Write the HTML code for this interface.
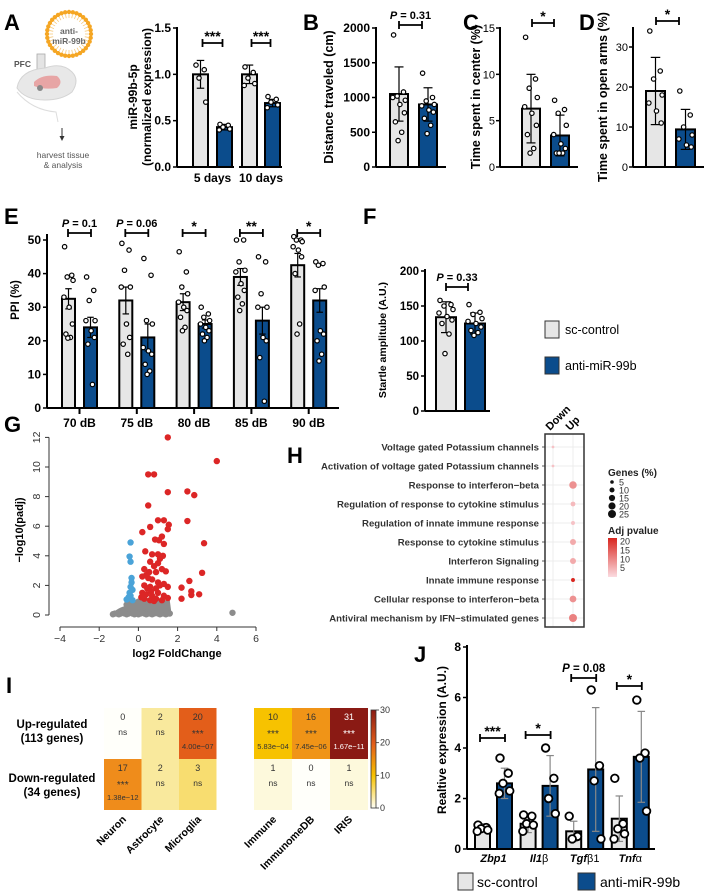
<!DOCTYPE html>
<html><head><meta charset="utf-8"><style>
html,body{margin:0;padding:0;background:#fff;}
svg{display:block;font-family:"Liberation Sans",Arial,sans-serif;}
.letter{font-weight:900;font-size:22px;}
</style></head><body>
<svg id="fig" width="705" height="893" viewBox="0 0 705 893">
<defs>
<linearGradient id="adjgrad" x1="0" y1="1" x2="0" y2="0"><stop offset="0" stop-color="#fbdbe0"/><stop offset="1" stop-color="#d9261f"/></linearGradient>
<linearGradient id="heatgrad" x1="0" y1="1" x2="0" y2="0"><stop offset="0" stop-color="#fffff5"/><stop offset="0.33" stop-color="#f7c200"/><stop offset="0.65" stop-color="#e35e1a"/><stop offset="1" stop-color="#8a1a14"/></linearGradient>
</defs>
<text class="letter" x="4" y="30">A</text>
<text class="letter" x="303" y="30">B</text>
<text class="letter" x="463" y="30">C</text>
<text class="letter" x="579" y="30">D</text>
<text class="letter" x="4" y="224">E</text>
<text class="letter" x="363" y="224">F</text>
<text class="letter" x="4" y="432">G</text>
<text class="letter" x="287" y="463">H</text>
<text class="letter" x="6" y="693">I</text>
<text class="letter" x="414" y="662">J</text>

<g>
  <g id="ring"></g>
  <text x="69" y="34" font-size="8.5" font-weight="bold" fill="#666" text-anchor="middle">anti-</text>
  <text x="69" y="44" font-size="8.5" font-weight="bold" fill="#666" text-anchor="middle">miR-99b</text>
  <rect x="37" y="54" width="8" height="16" fill="#e4e4e4" stroke="#aaa" stroke-width="0.8"/>
  <rect x="39.5" y="70" width="3" height="14" fill="#d8a0a0"/>
  <text x="14" y="67" font-size="8.5" font-weight="bold" fill="#555">PFC</text>
  <path d="M17 88 Q20 70 45 68 Q62 62 72 72 Q80 80 72 92 Q62 100 45 100 Q25 100 17 88Z" fill="#e8e8e8" stroke="#d4d4d4"/>
  <path d="M34 82 Q42 74 57 76 Q64 82 57 88 Q44 90 34 86Z" fill="#e7a5a5"/>
  <circle cx="40" cy="88" r="3" fill="#888"/>
  <path d="M17 92 Q32 110 56 112 L58 122" fill="none" stroke="#ddd"/>
  <line x1="62" y1="128" x2="62" y2="138" stroke="#333" stroke-width="1"/>
  <path d="M59.5 136 L62 141 L64.5 136Z" fill="#333"/>
  <text x="63" y="158" font-size="8.5" fill="#555" text-anchor="middle">harvest tissue</text>
  <text x="63" y="168" font-size="8.5" fill="#555" text-anchor="middle">&amp; analysis</text>
</g>
<g id="charts"></g>
</svg>
<script>
// ---------- DATA ----------
const aGroups = ["5 days","10 days"];
const aCtrlMean = [1.0, 1.0];
const aCtrlErr = [0.15, 0.1];
const aBlueMean = [0.43, 0.69];
const aBlueErr = [0.03, 0.04];
const aCtrlDots = [[1.1,1.05,0.96,0.7],[1.08,1.02,0.96,0.9,0.88]];
const aBlueDots = [[0.46,0.45,0.43,0.41,0.4],[0.76,0.73,0.7,0.67,0.64]];
const aTicks = [0,0.5,1,1.5];
const aTickLabels = ["0.0","0.5","1.0","1.5"];

const bMeans = [1050, 900];
const bErr = [390, 240];
const bCtrlDots = [1900,1080,1020,960,1000,900,780,650,500,380];
const bBlueDots = [1350,1000,950,900,880,820,790,700,600,480];
const bTicks = [0,500,1000,1500,2000];

const cMeans = [6.3, 3.4];
const cErr = [3.7, 2.2];
const cCtrlDots = [14,9.5,8.5,7.5,6.5,5.8,4.5,3.5,2,1.5];
const cBlueDots = [7.2,6.2,5.8,4.5,3.5,2.5,2,1.5,1.5,1.5];
const cTicks = [0,5,10,15];

const dMeans = [19, 9.4];
const dErr = [8.4, 5];
const dCtrlDots = [34,24,22,18,16,14,11];
const dBlueDots = [19,13,10,8,7,5.5,5];
const dTicks = [0,10,20,30];

const eCats = ["70 dB","75 dB","80 dB","85 dB","90 dB"];
const eCtrlMean = [32.5,32,31.5,39,42.5];
const eCtrlSem = [3,4,2.5,2.5,3.5];
const eBlueMean = [24,21,25,26,32];
const eBlueSem = [3,4,1.2,4,3.5];
const eSig = ["P = 0.1","P = 0.06","*","**","*"];
const eCtrlDots = [[48,39.5,39,38,33,30,25,22,21,20.8],[49,47,41,36,36,25,21,19,16],[46.5,40.5,36,34,31.5,30,29,27,24,23],[50,50,43.5,41,40.5,37,35,33,31,29],[51,50,50,49.5,48,47,45,40,25,22]];
const eBlueDots = [[39,35,32,26,26,23,21,19,7],[44.5,39.5,26,25,18,17,16,13,11,10],[30,28,27,26,25,24,23,22,21,20],[45,43.5,34,30,30,21,20,15,2],[43.5,43,42.5,36,35,23,22,20,16,14]];
const eTicks = [0,10,20,30,40,50];

const fMeans = [134, 125];
const fErr = [22, 15];
const fCtrlDots = [158,152,150,145,140,135,130,125,110,82];
const fBlueDots = [152,141,138,132,128,125,120,115,112,108];
const fTicks = [0,50,100,150,200];

const gRedX = [1.5,4,0.5,0.8,1.5,2.5,2.85,0.5,1,1.3,2.5,0.6,1.55,1.5,0.2,0.85,1.05,1.2,1.3,3.35,0.35,0.7,1.0,1.25,0.6,0.8,1.0,0.3,0.55,0.9,1.2,1.4,3.25,0.2,0.5,0.7,1.0,1.3,2.6,0.3,0.6,0.9,1.1,1.5,2.2,2.7,0.2,0.4,0.7,1.0,1.3,2.2,2.7,3.1,0.3,0.6,0.9,1.2,1.5,0.15,0.45,0.8,0.4,1.1,0.25,0.65];
const gRedY = [12,10.4,9.5,9.5,8.3,8.35,8.1,7.4,6.4,6.4,6.35,5.95,6.1,5.8,5.6,5.1,5.05,5.3,4.8,4.85,4.3,4.1,4.1,4.0,3.6,3.3,3.5,3.1,2.9,2.9,3.1,2.95,2.85,2.6,2.5,2.4,2.2,2.1,2.3,2.0,1.9,1.8,2.0,1.9,1.85,1.6,1.5,1.4,1.3,1.5,1.3,1.1,1.35,1.4,1.1,1.0,1.1,1.0,1.15,1.2,1.8,0.95,2.7,3.8,1.3,1.6];
const gBlueX = [-0.4,-0.45,-0.4,-0.35,-0.35,-0.4,-0.45,-0.5,-0.3,-0.4,-0.6,-0.3];
const gBlueY = [4.9,3.95,3.6,2.5,2.2,1.9,1.5,1.2,1.7,1.3,1.05,1.0];
const gGreyX = [-1.3,-1.2,-1.1,-1.0,-0.9,-0.8,-0.7,-0.6,-0.5,-0.4,-0.3,-0.2,-0.1,0,0.1,0.2,0.3,0.4,0.5,0.6,0.7,0.8,0.9,1.0,1.1,1.2,1.3,1.4,1.5,1.6,-0.7,-0.5,-0.3,-0.1,0.1,0.3,0.5,0.7,0.9,1.1,1.3,-0.6,-0.2,0.2,0.6,1.0,1.4,-0.4,0,0.4,0.8,1.2,4.8];
const gGreyY = [0.05,0.1,0.1,0.05,0.1,0.15,0.1,0.05,0.1,0.15,0.1,0.05,0.1,0.05,0.1,0.15,0.1,0.05,0.1,0.1,0.05,0.1,0.15,0.1,0.05,0.1,0.1,0.05,0.1,0.1,0.35,0.45,0.4,0.5,0.45,0.55,0.5,0.45,0.5,0.55,0.45,0.7,0.75,0.8,0.75,0.8,0.7,0.95,0.9,0.95,0.9,0.85,0.15];
const gXTicks = [-4,-2,0,2,4,6];
const gYTicks = [0,2,4,6,8,10,12];

const hTerms = ["Voltage gated Potassium channels","Activation of voltage gated Potassium channels","Response to interferon\u2212beta","Regulation of response to cytokine stimulus","Regulation of innate immune response","Response to cytokine stimulus","Interferon Signaling","Innate immune response","Cellular response to interferon\u2212beta","Antiviral mechanism by IFN\u2212stimulated genes"];
const hDirection = ["Down","Down","Up","Up","Up","Up","Up","Up","Up","Up"];
const hGenesPct = [3,3,22,9,6,14,14,6,18,25];
const hAdjP = [3,3,9,4,3,6,6,22,9,11];
const hSizeLegend = [5,10,15,20,25];
const hPLegend = [20,15,10,5];

const iCellTypes = ["Neuron","Astrocyte","Microglia"];
const iDatabases = ["Immune","ImmunomeDB","IRIS"];
const iRows = ["Up-regulated","Down-regulated"];
const iLeftCounts = [[0,2,20],[17,2,3]];
const iLeftSig = [["ns","ns","***"],["***","ns","ns"]];
const iLeftP = [["","","4.00e\u221207"],["1.38e\u221212","",""]];
const iRightCounts = [[10,16,31],[1,0,1]];
const iRightSig = [["***","***","***"],["ns","ns","ns"]];
const iRightP = [["5.83e\u221204","7.45e\u221206","1.67e\u221211"],["","",""]];
const iLeftShade = [[0,4,20],[17,4,6]];

const jGenes = ["Zbp1","Il1","Tgf","Tnf"];
const jGeneSuffix = ["","\u03b2","\u03b21","\u03b1"];
const jCtrlMean = [0.85,1.0,0.7,1.2];
const jCtrlErr = [0.15,0.35,0.4,0.9];
const jBlueMean = [2.6,2.5,3.15,3.65];
const jBlueErr = [0.6,1.2,2.45,1.8];
const jCtrlDots = [[0.95,0.85,0.8,0.75,0.7],[1.35,1.3,1.0,0.95,0.7],[1.3,0.5,0.4],[2.8,1.0,0.8,0.6,0.4]];
const jBlueDots = [[3.6,3.0,2.6,2.3,2.2],[4.0,2.8,2.0,1.4],[6.3,3.3,2.7,0.4],[5.9,3.8,3.6,1.5]];
const jSig = ["***","*","P = 0.08","*"];
const jTicks = [0,2,4,6,8];

// ---------- HELPERS ----------
const NS = "http://www.w3.org/2000/svg";
const root = document.getElementById("charts");
const CTRL = "#e6e6e6", BLUE = "#0b4c8c";
function mk(tag, attrs, parent){
  const e = document.createElementNS(NS, tag);
  for (const k in attrs) e.setAttribute(k, attrs[k]);
  (parent || root).appendChild(e);
  return e;
}
function tx(x, y, s, attrs, parent){
  const t = mk("text", Object.assign({x:x, y:y}, attrs), parent);
  t.textContent = s;
  return t;
}
const JIT = [-0.3,0.25,-0.1,0.35,-0.35,0.05,0.3,-0.2,0.15,-0.05,0.2];

function vAxis(g, axX, sy, ticks, labels, top, bottom, fs, weight){
  const ax = mk("line",{x1:axX,y1:top,x2:axX,y2:bottom,stroke:"#000","stroke-width":2},g);
  
  
  ticks.forEach((v,i)=>{
    mk("line",{x1:axX-4,y1:sy(v),x2:axX,y2:sy(v),stroke:"#000","stroke-width":1.5},g);
    const t = tx(axX-(weight==="normal"?5:6), sy(v)+4, labels ? labels[i] : String(v), {"font-size":fs||11.5,"font-weight":weight||"bold","text-anchor":"end"}, g);
    
    
  });
}
function bar(g, x, w, sy, mean, err, dots, fill, name, dotR, errCol){
  const r = mk("rect",{x:x,y:sy(mean),width:w,height:sy(0)-sy(mean),fill:fill,stroke:"#000","stroke-width":2},g);
  
  
  const cx = x + w/2;
  const ec = errCol || "#000";
  mk("line",{x1:cx,y1:sy(mean+err),x2:cx,y2:sy(Math.max(0,mean-err)),stroke:ec,"stroke-width":1.2},g);
  mk("line",{x1:cx-w*0.25,y1:sy(mean+err),x2:cx+w*0.25,y2:sy(mean+err),stroke:ec,"stroke-width":1.2},g);
  mk("line",{x1:cx-w*0.25,y1:sy(Math.max(0,mean-err)),x2:cx+w*0.25,y2:sy(Math.max(0,mean-err)),stroke:ec,"stroke-width":1.2},g);
  dots.forEach((v,i)=>{
    const c = mk("circle",{cx:cx + JIT[i%JIT.length]*w, cy:sy(v), r:dotR||2.2, fill:"#fff", stroke:"#000","stroke-width":dotR>3?1.8:1.2},g);
    
    
  });
}
function bracket(g, x1, x2, y, label, fs){
  mk("line",{x1:x1,y1:y,x2:x2,y2:y,stroke:"#000","stroke-width":1.8},g);
  mk("line",{x1:x1,y1:y-4,x2:x1,y2:y+4,stroke:"#000","stroke-width":1.8},g);
  mk("line",{x1:x2,y1:y-4,x2:x2,y2:y+4,stroke:"#000","stroke-width":1.8},g);
  const isP = label.indexOf("P")===0;
  const t = tx((x1+x2)/2, isP ? y-6 : y-2, "", {"font-size":fs||(isP?11:14),"font-weight":"bold","text-anchor":"middle"}, g);
  if (isP){
    const s1 = mk("tspan",{"font-style":"italic"},t); s1.textContent="P";
    const s2 = mk("tspan",{},t); s2.textContent = label.slice(1);
  } else t.textContent = label;
  
  
}
function ylabel(g, x, y, lines, fs){
  lines.forEach((s,i)=>{
    const xx = x + i*(fs+2);
    const t = tx(xx, y, s, {"font-size":fs,"font-weight":"bold","text-anchor":"middle",transform:"rotate(-90 "+xx+" "+y+")"}, g);
    
    
  });
}
function group(name){
  const g = mk("g",{});
  
  
  return g;
}

(function(){
  const ring = document.getElementById("ring");
  for (let i=0;i<36;i++){
    const a = i/36*2*Math.PI;
    mk("circle",{cx:69+22*Math.cos(a),cy:34+22*Math.sin(a),r:2.2,fill:"#f5a623"},ring);
    mk("line",{x1:69+19.5*Math.cos(a),y1:34+19.5*Math.sin(a),x2:69+16*Math.cos(a),y2:34+16*Math.sin(a),stroke:"#f5c26b","stroke-width":0.7},ring);
  }
})();

// ---------- Panel A ----------
(function(){
  const g = group("panel-a-chart");
  const y0=167, yT=28, vMax=1.5;
  const sy = v => y0 - v/vMax*(y0-yT);
  const ctrlX=[193,242], blueX=[217,265], w=15;
  const baseX=[[177,234],[239,282]];
  aGroups.forEach((gr,i)=>{
    bar(g, ctrlX[i], w, sy, aCtrlMean[i], aCtrlErr[i], aCtrlDots[i], CTRL, "bar-control-"+i);
    bar(g, blueX[i], w, sy, aBlueMean[i], aBlueErr[i], aBlueDots[i], BLUE, "bar-anti-mir-"+i);
    bracket(g, ctrlX[i]+w/2+2, blueX[i]+w/2-2, 43, "***");
    mk("line",{x1:baseX[i][0],y1:y0,x2:baseX[i][1],y2:y0,stroke:"#000","stroke-width":2},g);
    const t = tx((ctrlX[i]+blueX[i]+w)/2, 182, gr, {"font-size":12,"font-weight":"bold","text-anchor":"middle"}, g);
    
    
  });
  vAxis(g, 177, sy, aTicks, aTickLabels, yT-1, y0, 12);
  ylabel(g, 137, 97, ["miR-99b-5p","(normalized expression)"], 12);
})();

function twoBar(name, axX, vMax, yT, ticks, means, errs, cd, bd, x1, x2, w, br, sig, ylab, labX, axTop, tickW, tickFs){
  const g = group(name);
  const y0=167;
  const sy = v => y0 - v/vMax*(y0-yT);
  bar(g, x1, w, sy, means[0], errs[0], cd, CTRL, "bar-control");
  bar(g, x2, w, sy, means[1], errs[1], bd, BLUE, "bar-anti-mir");
  mk("line",{x1:axX,y1:y0,x2:x2+w+9,y2:y0,stroke:"#000","stroke-width":2},g);
  vAxis(g, axX, sy, ticks, null, axTop, y0, tickFs, tickW);
  bracket(g, br[0], br[1], br[2], sig);
  ylabel(g, labX, 97, [ylab], 12.5);
}
twoBar("panel-b-chart", 376, 2000, 28, bTicks, bMeans, bErr, bCtrlDots, bBlueDots, 390, 419, 18, [399,422,25], "P = 0.31", "Distance traveled (cm)", 333, 27, "bold", 12);
twoBar("panel-c-chart", 500, 15, 28, cTicks, cMeans, cErr, cCtrlDots, cBlueDots, 522, 551, 18, [532,554,23], "*", "Time spent in center (%)", 480, 27, "normal", 11);
twoBar("panel-d-chart", 633, 35, 27, dTicks, dMeans, dErr, dCtrlDots, dBlueDots, 646, 676, 19, [656,679,21], "*", "Time spent in open arms (%)", 607, 27, "normal", 11);

// ---------- Panel E ----------
(function(){
  const g = group("panel-e-chart");
  const y0=408, yT=240, vMax=50;
  const sy = v => y0 - v/vMax*(y0-yT);
  const step=57.3, cx0=62, bx0=84;
  eCats.forEach((c,i)=>{
    const cx = cx0+step*i, bx = bx0+step*i;
    bar(g, cx, 13, sy, eCtrlMean[i], eCtrlSem[i], eCtrlDots[i], CTRL, "bar-control-"+c);
    bar(g, bx, 13, sy, eBlueMean[i], eBlueSem[i], eBlueDots[i], BLUE, "bar-anti-mir-"+c);
    bracket(g, cx+6, bx+7, 233, eSig[i]);
    const mid = (cx+bx+13)/2;
    mk("line",{x1:mid,y1:y0,x2:mid,y2:y0+6,stroke:"#000","stroke-width":2},g);
    const t = tx(mid, 427, c, {"font-size":12,"font-weight":"bold","text-anchor":"middle"}, g);
    
    
  });
  mk("line",{x1:47,y1:y0,x2:339,y2:y0,stroke:"#000","stroke-width":2},g);
  vAxis(g, 47, sy, eTicks, null, 234, y0, 12);
  ylabel(g, 19, 300, ["PPI  (%)"], 11.5);
})();

// ---------- Panel F ----------
(function(){
  const g = group("panel-f-chart");
  const y0=411, yT=271, vMax=200;
  const sy = v => y0 - v/vMax*(y0-yT);
  bar(g, 436, 20, sy, fMeans[0], fErr[0], fCtrlDots, CTRL, "bar-control");
  bar(g, 465, 20, sy, fMeans[1], fErr[1], fBlueDots, BLUE, "bar-anti-mir");
  mk("line",{x1:425,y1:y0,x2:490,y2:y0,stroke:"#000","stroke-width":2},g);
  vAxis(g, 425, sy, fTicks, null, 269, y0);
  bracket(g, 446, 468, 287, "P = 0.33");
  ylabel(g, 386, 340, ["Startle amplitube (A.U.)"], 10.5);
  const l1 = mk("rect",{x:545,y:321,width:14,height:17,fill:CTRL,stroke:"#333","stroke-width":1},g);
  
  
  tx(565,334,"sc-control",{"font-size":12.5},g);
  const l2 = mk("rect",{x:545,y:357,width:14,height:17,fill:BLUE,stroke:"#333","stroke-width":1},g);
  
  
  tx(565,370,"anti-miR-99b",{"font-size":12.5},g);
})();

// ---------- Panel G ----------
(function(){
  const g = group("panel-g-volcano");
  const sx = v => 60 + (v+4)*19.6;
  const sy = v => 615 - v*14.8;
  const blob = mk("path",{d:"M"+sx(-1.35)+" "+sy(0)+" Q"+sx(-1.2)+" "+sy(0.4)+" "+sx(-0.7)+" "+sy(0.6)+" L"+sx(-0.35)+" "+sy(1.0)+" L"+sx(1.6)+" "+sy(1.0)+" L"+sx(1.7)+" "+sy(0)+" Z",fill:"#8c8c8c"},g);
  
  
  gGreyX.forEach((x,i)=>{
    const c = mk("circle",{cx:sx(x),cy:sy(gGreyY[i]),r:3.2,fill:"#8c8c8c"},g);
    
    
  });
  gBlueX.forEach((x,i)=>{
    const c = mk("circle",{cx:sx(x),cy:sy(gBlueY[i]),r:3.2,fill:"#4aa3d8"},g);
    
    
  });
  gRedX.forEach((x,i)=>{
    const c = mk("circle",{cx:sx(x),cy:sy(gRedY[i]),r:3.2,fill:"#dc2626"},g);
    
    
  });
  mk("line",{x1:sx(-4),y1:627,x2:sx(6),y2:627,stroke:"#333","stroke-width":1},g);
  gXTicks.forEach(v=>{
    mk("line",{x1:sx(v),y1:627,x2:sx(v),y2:631,stroke:"#333","stroke-width":1},g);
    const t = tx(sx(v),642,String(v).replace("-","\u2212"),{"font-size":10.5,"text-anchor":"middle",fill:"#333"},g);
    
    
  });
  mk("line",{x1:49,y1:sy(0),x2:49,y2:sy(12),stroke:"#333","stroke-width":1},g);
  gYTicks.forEach(v=>{
    mk("line",{x1:45,y1:sy(v),x2:49,y2:sy(v),stroke:"#333","stroke-width":1},g);
    const t = tx(40,sy(v),String(v),{"font-size":10.5,"text-anchor":"middle",fill:"#333",transform:"rotate(-90 40 "+sy(v)+")"},g);
    
    
  });
  ylabel(g, 23, 530, ["\u2212log10(padj)"], 11);
  const xt = tx(177,657,"log2 FoldChange",{"font-size":11,"font-weight":"bold","text-anchor":"middle"},g);
  
  
})();

// ---------- Panel H ----------
(function(){
  const g = group("panel-h-dotplot");
  const rowY = i => 447 + i*19;
  const colX = {Down:553, Up:573};
  mk("rect",{x:545,y:434,width:39,height:193,fill:"#fff"},g);
  ["Down","Up"].forEach(k=>{
    mk("line",{x1:colX[k],y1:434,x2:colX[k],y2:627,stroke:"#ececec","stroke-width":1},g);
    const t = tx(colX[k]-3,431,k,{"font-size":11,"font-weight":"bold",transform:"rotate(-45 "+(colX[k]-3)+" 431)"},g);
    
    
  });
  hTerms.forEach((term,i)=>{
    mk("line",{x1:545,y1:rowY(i),x2:584,y2:rowY(i),stroke:"#ececec","stroke-width":1},g);
    mk("line",{x1:542,y1:rowY(i),x2:545,y2:rowY(i),stroke:"#333","stroke-width":0.8},g);
    const t = tx(539,rowY(i)+3.5,term,{"font-size":9.6,"font-weight":"bold","text-anchor":"end",fill:"#333"},g);
    
    
    const f = Math.min(1,hAdjP[i]/22);
    const col = "rgb("+Math.round(251-f*(251-217))+","+Math.round(219-f*(219-38))+","+Math.round(224-f*(224-31))+")";
    const c = mk("circle",{cx:colX[hDirection[i]],cy:rowY(i),r:0.8*Math.sqrt(hGenesPct[i]),fill:col},g);
    
    
  });
  mk("rect",{x:545,y:434,width:39,height:193,fill:"none",stroke:"#333","stroke-width":1.5},g);
  tx(608,476,"Genes (%)",{"font-size":10,"font-weight":"bold",fill:"#222"},g);
  hSizeLegend.forEach((s,i)=>{
    const y = 482 + i*8;
    const c = mk("circle",{cx:612,cy:y,r:0.8*Math.sqrt(s),fill:"#111"},g);
    
    
    tx(619,y+3.5,String(s),{"font-size":9,fill:"#333"},g);
  });
  tx(608,534,"Adj pvalue",{"font-size":10,"font-weight":"bold",fill:"#222"},g);
  const gb = mk("rect",{x:608,y:538,width:9,height:39,fill:"url(#adjgrad)"},g);
  
  
  hPLegend.forEach(p=>{
    const y = 577 - (p/22)*39;
    tx(620,y+3,String(p),{"font-size":9,fill:"#333"},g);
  });
})();

// ---------- Panel I ----------
(function(){
  const g = group("panel-i-heatmap");
  const stops = [[0,[255,255,250]],[2,[250,242,190]],[5,[248,228,140]],[10,[247,194,0]],[17,[239,140,27]],[20,[227,94,26]],[25,[194,50,25]],[31,[138,26,20]]];
  function color(v){
    for (let k=1;k<stops.length;k++){
      if (v<=stops[k][0]){
        const a=stops[k-1], b=stops[k], f=(v-a[0])/(b[0]-a[0]);
        return "rgb("+a[1].map((c,j)=>Math.round(c+(b[1][j]-c)*f)).join(",")+")";
      }
    }
    return "rgb(138,26,20)";
  }
  const rowTop=[708,759], rowH=[51,51];
  function block(x0, widths, counts, shade, sig, pv, cols){
    let x = x0;
    widths.forEach((w,j)=>{
      [0,1].forEach(r=>{
        const cell = mk("rect",{x:x,y:rowTop[r],width:w,height:rowH[r],fill:color(shade[r][j])},g);
        
        
        const dark = counts[r][j]>=25;
        const fc = dark ? "#fff" : "#333";
        tx(x+w/2,rowTop[r]+12,String(counts[r][j]),{"font-size":9,"text-anchor":"middle",fill:fc},g);
        tx(x+w/2,rowTop[r]+(sig[r][j]==="***"?29:27),sig[r][j],{"font-size":sig[r][j]==="***"?10:8.5,"text-anchor":"middle",fill:fc},g);
        if (pv[r][j]) tx(x+w/2,rowTop[r]+41,pv[r][j],{"font-size":7.5,"text-anchor":"middle",fill:fc},g);
      });
      const lx = x+w/2+4;
      const t = tx(lx,820,cols[j],{"font-size":10.5,"font-weight":"bold","text-anchor":"end",transform:"rotate(-45 "+lx+" 820)"},g);
      
      
      x += w;
    });
  }
  block(104,[37.5,37.5,37.5], iLeftCounts, iLeftShade, iLeftSig, iLeftP, iCellTypes);
  block(254,[38,38,38], iRightCounts, iRightCounts, iRightSig, iRightP, iDatabases);
  [["Up-regulated","(113 genes)",728],["Down-regulated","(34 genes)",782]].forEach(a=>{
    const t1 = tx(52,a[2],a[0],{"font-size":11.5,"font-weight":"bold","text-anchor":"middle"},g);
    
    
    tx(52,a[2]+14,a[1],{"font-size":11.5,"font-weight":"bold","text-anchor":"middle"},g);
  });
  const cb = mk("rect",{x:371,y:710,width:5,height:98,fill:"url(#heatgrad)",stroke:"#333","stroke-width":0.8},g);
  
  
  [0,10,20,30].forEach(v=>{
    const y = 808 - v/30*98;
    mk("line",{x1:376,y1:y,x2:379,y2:y,stroke:"#333","stroke-width":0.8},g);
    tx(380,y+3,String(v),{"font-size":9,fill:"#333"},g);
  });
})();

// ---------- Panel J ----------
(function(){
  const g = group("panel-j-chart");
  const y0=849, yT=647, vMax=8;
  const sy = v => y0 - v/vMax*(y0-yT);
  const step=45.6;
  const brY=[738,735,678,686];
  jGenes.forEach((gn,i)=>{
    const cx = 475+step*i, bx = 497+step*i;
    bar(g, cx, 15, sy, jCtrlMean[i], jCtrlErr[i], jCtrlDots[i], CTRL, "bar-control-"+gn, 3.8, "#888");
    bar(g, bx, 15, sy, jBlueMean[i], jBlueErr[i], jBlueDots[i], BLUE, "bar-anti-mir-"+gn, 3.8, "#888");
    bracket(g, cx+5, bx+8, brY[i], jSig[i], jSig[i].indexOf("P")===0?11.5:14);
    const t = tx((cx+bx+15)/2, 862, "", {"font-size":11,"font-weight":"bold","text-anchor":"middle"}, g);
    const s1 = mk("tspan",{"font-style":"italic"},t); s1.textContent = gn;
    const s2 = mk("tspan",{"font-weight":"normal"},t); s2.textContent = jGeneSuffix[i];
    
    
  });
  mk("line",{x1:467,y1:y0,x2:655,y2:y0,stroke:"#000","stroke-width":2},g);
  vAxis(g, 467, sy, jTicks, null, 645, y0, 12);
  ylabel(g, 446, 740, ["Realtive expression (A.U.)"], 12);
  const l1 = mk("rect",{x:458,y:873,width:15,height:17,fill:CTRL,stroke:"#333","stroke-width":1},g);
  
  
  tx(477,887,"sc-control",{"font-size":14},g);
  const l2 = mk("rect",{x:578,y:873,width:17,height:17,fill:BLUE,stroke:"#333","stroke-width":1},g);
  
  
  tx(600,887,"anti-miR-99b",{"font-size":14},g);
})();
</script>
</body></html>
